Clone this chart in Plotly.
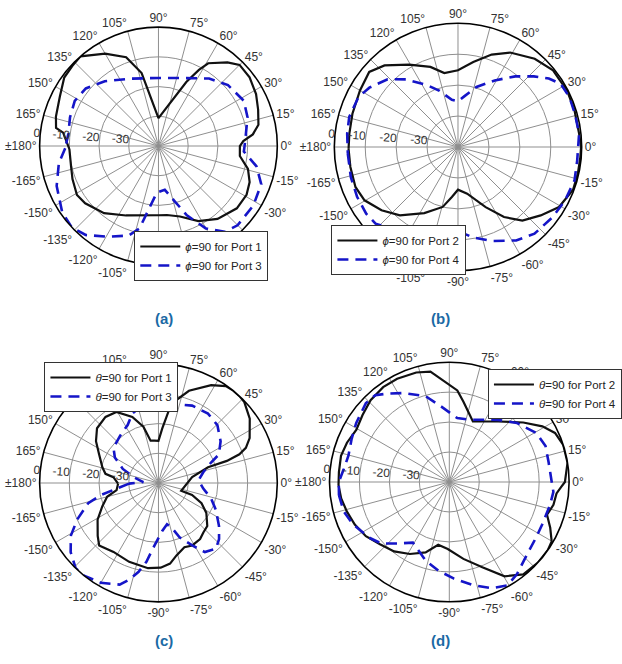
import plotly.graph_objects as go

# ---------------- data (angle in degrees, gain in dB) ----------------
a_p1_theta = [-178, -167, -159, -149, -142, -129, -115, -90, -83, -73, -62, -51, -38.5, -29, -21.6, -14.4, -7,
              0, 3.3, 7, 12, 20, 28, 37, 45, 50.5, 59, 62, 66.5, 90, 103, 110, 120, 131, 137, 144, 153.5, 164, 170, 172]
a_p1_db = [-10, -9.8, -9, -8, -8.7, -10.9, -14.2, -16.7, -16.6, -15.2, -11.4, -8.4, -6.3, -6.1, -7, -8.9, -12.4,
           -12.6, -11.4, -8, -5.6, -4.3, -2.8, -1.6, -1.4, -3.5, -7.5, -11, -16.5, -30.6, -14.8, -8.2, -4.1, 0, -0.4,
           -0.8, -2.9, -4.1, -5, -7.6]

a_p3_theta = [-178.6, -170.3, -158.6, -145.6, -137, -129.3, -119.2, -108.5, -103, -98.6, -92, -81.8, -73.9, -67.7,
              -60.1, -52.3, -45.1, -32.1, -20.4, -11.7, -3.7, 3.9, 17.9, 27.9, 41.2, 53.1, 69.6, 90, 112.9, 129.7,
              141.6, 151.7, 162, 172.1]
a_p3_db = [-8.6, -6, -3.2, -0.7, 0, -1.3, -5, -8.2, -11.5, -18.6, -24.3, -25.1, -20.8, -14.8, -8, -3.5, -2.3, -2.3,
           -3.1, -6.3, -11.2, -10.7, -8.5, -7.5, -8.9, -11.6, -15.6, -17.1, -15.4, -11.7, -8.8, -8, -8.7, -9.4]

b_p2_theta = [-179, -169.5, -158.7, -150.3, -140.4, -130.4, -117, -104.3, -97, -90, -78.9, -65.3, -56.7, -48.8,
              -39.6, -30.7, -20.4, -12.5, -4.7, 0, 6.3, 17.5, 27.2, 38.9, 49, 61.1, 70, 79.8, 90, 100.5, 109,
              120.7, 132, 139.8, 150, 162.5, 173]
b_p2_db = [-4.6, -4.6, -4.4, -5.2, -7.9, -11, -16, -20, -23.7, -26.2, -24.6, -18.6, -12.9, -8.4, -5.3, -2, -0.3,
           -0.3, -0.3, -0.2, -0.6, -0.5, -0.3, -0.5, -2.2, -5.1, -8.2, -12.1, -15.2, -15.7, -12.6, -9, -4.5, -2.4,
           -3.4, -4.2, -4.6]

b_p4_theta = [-176.5, -164.3, -153.7, -144, -137.1, -129.5, -118.8, -102.8, -90, -80.4, -70.3, -58.1, -48.6, -36.4,
              -26.5, -16, -6.4, 6.3, 16, 24, 31.5, 37, 43, 51, 61.1, 72.9, 83, 90, 97.4, 108.2, 116.4, 127.6,
              136.1, 146.2, 153.3, 164.5, 173.1]
b_p4_db = [-4.3, -4, -3.6, -3.3, -3.6, -5.8, -9.2, -13.1, -12.8, -10.3, -7.7, -4.4, -2.6, -1.9, -1.3, -0.8, -1.2,
           -0.6, -0.7, -0.5, -1, -3.2, -6.5, -10.6, -15.4, -19.7, -23.5, -25.2, -24.6, -20.9, -17.7, -12.4, -8.4,
           -5.5, -4, -3.5, -3.9]

c_p1_theta = [-179, -170.3, -165, -157.3, -149, -139, -133.5, -123.1, -110.4, -97, -88.5, -81.8, -76, -68, -61.6,
              -53.4, -47.8, -41.4, -32, -25.1, -19.6, -19, 9.8, 17.6, 17.9, 19.5, 21.9, 26.2, 35.2, 43.3, 47, 51,
              55.2, 61.7, 71.7, 79.6, 81.3, 86, 90, 95.5, 100.5, 105, 111.6, 120.6, 128.7, 138.3, 146.2, 154.2,
              164.4, 170.2, 172.6]
c_p1_db = [-26.4, -25.7, -22.1, -19.5, -16.1, -12.9, -11, -12.3, -11.7, -11.1, -11.5, -12.6, -14.9, -16.7, -16.1,
           -16.5, -17.5, -18.1, -21, -24, -28, -31.9, -28.5, -22.5, -15.8, -11.1, -8.3, -5.8, -2.4, -0.3, 0, 0,
           -0.3, -2.6, -7.3, -12.4, -14.2, -21.6, -25.8, -25.7, -25.5, -20.4, -16.1, -12.2, -11.5, -12.3, -14.7,
           -17.8, -20.4, -21.9, -24.7]

c_p3_theta = [-178.8, -172.4, -168.2, -164, -155.8, -149, -141.8, -134.2, -128.8, -120, -110.9, -106.9, -102.6,
              -98.7, -93.7, -85.5, -78.3, -73.5, -68.8, -61.6, -56.1, -48.9, -42.8, -35.4, -25, -16.2, -7.1, 3.7,
              13.5, 21.3, 25.3, 33.9, 44.5, 54.5, 66.5, 79.4, 90, 103.6, 110.6, 118, 129.7, 142, 149.7, 158.5,
              166.7, 176.4]
c_p3_db = [-30.1, -25.8, -20.2, -15.4, -10, -5.6, -2.4, 0, 0, -1.2, -3.4, -6, -9.4, -13.2, -18.9, -23.8, -25.8,
           -24.4, -20.4, -16.1, -12, -10.6, -12.2, -15, -18.7, -21.6, -24.8, -26.5, -24.5, -21, -17.5, -14.8,
           -12.2, -11.3, -11.6, -12.9, -13.4, -13.8, -15, -17.9, -19.6, -20.8, -23, -27.1, -31.5, -34.9]

d_p2_theta = [-178.3, -171.4, -164, -155.8, -147, -138.1, -128.5, -118.7, -108.6, -100, -91.3, -79.6, -68.8,
              -59.6, -51.3, -42.3, -34.7, -30.1, -24.4, -18.5, -12.4, -6.1, -2.5, 0, 9.3, 18.1, 24.9, 30.9, 38.8,
              51, 68.7, 73, 80, 85, 99.7, 106.8, 116.8, 124.9, 133.9, 142.3, 150.6, 159, 166.4, 174.9]
d_p2_db = [-3, -3.5, -4.4, -5.4, -6.8, -8.9, -10.4, -12.6, -15.2, -18.7, -17.6, -13.9, -9.5, -3.5, -0.5, 0, 0,
           -0.5, -3, -5.6, -4.4, -4, -2.6, -1.4, 0, 0, -1.1, -3.8, -8.3, -14, -18.3, -16.6, -12.8, -9.3, -2.6,
           -1.8, -1.4, -1.4, -2.1, -3.4, -4.4, -3.4, -2.8, -3]

d_p4_theta = [-173.2, -164.4, -156.2, -145.3, -137.8, -130.2, -121, -106.7, -97.1, -87.2, -77.1, -68.2, -60.5,
              -53.5, -43.6, -32.7, -24.6, -12.8, -5.4, 0, 11.2, 20.5, 29.5, 41, 51.8, 71.8, 82.9, 96, 105.4,
              117.2, 125.5, 130.5, 136.7, 147.6, 156.5, 165.4, 173, 180]
d_p4_db = [-2.9, -3.4, -4.9, -7.4, -9.4, -13.1, -16.4, -12.6, -10.2, -7.7, -4.7, -1.8, -0.4, -1.9, -4.4, -5.6,
           -5.9, -5.5, -5.1, -5.8, -6.2, -5.7, -6.7, -10, -13.6, -18.1, -18.5, -14.7, -10.3, -6.6, -3.8, -1.9,
           -1.7, -3.2, -4.4, -5.2, -4.5, -3.1]

radial_ticks = [-30, -20, -10, 0]
radial_labels = ["-30", "-20", "-10", "0"]
angle_ticks = list(range(0, 360, 15))
angle_labels = [("±180°" if a == 180 else f"{a if a < 180 else a - 360}°") for a in angle_ticks]
captions = ["(a)", "(b)", "(c)", "(d)"]

FONT = "Liberation Sans, Arial, sans-serif"
BLACK = "#111111"
BLUE = "#1515c8"
W, H = 622, 664

def closed(t, r):
    return list(t) + [t[0]], list(r) + [r[0]]

panels = [
    ("polar", "legend", (a_p1_theta, a_p1_db, "<i>ϕ</i>=90 for Port 1"),
     (a_p3_theta, a_p3_db, "<i>ϕ</i>=90 for Port 3"), (164, 146), 123),
    ("polar2", "legend2", (b_p2_theta, b_p2_db, "<i>ϕ</i>=90 for Port 2"),
     (b_p4_theta, b_p4_db, "<i>ϕ</i>=90 for Port 4"), (474, 147), 128),
    ("polar3", "legend3", (c_p1_theta, c_p1_db, "<i>θ</i>=90 for Port 1"),
     (c_p3_theta, c_p3_db, "<i>θ</i>=90 for Port 3"), (164, 483), 123),
    ("polar4", "legend4", (d_p2_theta, d_p2_db, "<i>θ</i>=90 for Port 2"),
     (d_p4_theta, d_p4_db, "<i>θ</i>=90 for Port 4"), (465, 482), 124),
]

fig = go.Figure()
for pid, lid, s1, s2, _, _ in panels:
    t, r = closed(s1[0], s1[1])
    fig.add_trace(go.Scatterpolar(theta=t, r=r, mode="lines", name=s1[2], subplot=pid, legend=lid,
                                  line=dict(color=BLACK, width=2.2)))
    t, r = closed(s2[0], s2[1])
    fig.add_trace(go.Scatterpolar(theta=t, r=r, mode="lines", name=s2[2], subplot=pid, legend=lid,
                                  line=dict(color=BLUE, width=2.6, dash="11px,7px")))

layout = dict(width=W, height=H, margin=dict(l=0, r=0, t=0, b=0), paper_bgcolor="white",
              font=dict(family=FONT, size=12, color="#222"))

for pid, lid, s1, s2, (cx, cy), R in panels:
    layout[pid] = dict(
        domain=dict(x=[(cx - R) / W, (cx + R) / W], y=[1 - (cy + R) / H, 1 - (cy - R) / H]),
        bgcolor="white",
        angularaxis=dict(direction="counterclockwise", rotation=0, tickmode="array",
                         tickvals=angle_ticks, ticktext=angle_labels, showline=True, linecolor="black",
                         linewidth=1.6, gridcolor="#8f8f8f", gridwidth=0.8, ticks="",
                         tickfont=dict(size=12, color="#333", family=FONT)),
        radialaxis=dict(range=[-40, 0], tickmode="array", tickvals=radial_ticks, ticktext=radial_labels,
                        angle=176, tickangle=180, side="clockwise", showline=False, ticks="",
                        gridcolor="#8f8f8f", gridwidth=0.8,
                        tickfont=dict(size=12, color="#333", family=FONT)),
    )

legend_pos = {"legend": (139, 231), "legend2": (343, 225), "legend3": (46, 362), "legend4": (505, 369)}
for lid, (lx, ly) in legend_pos.items():
    layout[lid] = dict(x=lx / W, y=1 - ly / H, xanchor="left", yanchor="top", bgcolor="white",
                       bordercolor="#333", borderwidth=1, font=dict(size=11.5, color="#222", family=FONT),
                       tracegroupgap=0, itemwidth=40)

fig.update_layout(**layout)

cap_pos = [(158, 318), (468, 318), (158, 651), (468, 651)]
for txt, (x, y) in zip(captions, cap_pos):
    fig.add_annotation(x=x / W, y=1 - y / H, xref="paper", yref="paper", text=f"<b>{txt}</b>",
                       showarrow=False, font=dict(size=15, color="#1b6aa5", family=FONT))

fig.write_html("out.html", config={"displayModeBar": False},
               post_script="document.body.style.margin='0px';")
